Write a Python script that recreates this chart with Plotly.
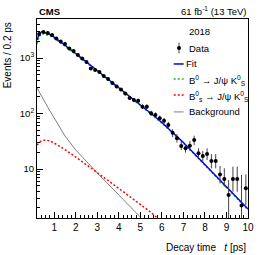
import plotly.graph_objects as go

# ---- data ----
t_data = [0.3, 0.5, 0.7, 0.9, 1.1, 1.3, 1.5, 1.7, 1.9, 2.1, 2.3, 2.5, 2.7, 2.9, 3.1, 3.3,
          3.5, 3.7, 3.9, 4.1, 4.3, 4.5, 4.7, 4.9, 5.1, 5.3, 5.5, 5.7, 5.9, 6.1, 6.3, 6.5,
          6.7, 6.9, 7.1, 7.3, 7.5, 7.7, 7.9, 8.1, 8.3, 8.5, 8.7, 8.9, 9.1, 9.3, 9.5, 9.7, 9.9]
n_data = [2704, 2939, 2818, 2597, 2244, 1982, 1786, 1483, 1336, 1133, 980, 847, 647, 608, 560, 474,
          419, 355, 306, 270, 229, 190, 175, 170, 133, 133, 101, 94, 82, 74, 62, 45,
          36, 25.9, 23.6, 26.3, 33.4, 19.2, 17.1, 18.6, 13.9, 13.9, 8.0, 6.6, 3.4, 6.6, 6.6, 2.2, 4.5]
err_up = [57, 60, 58, 56, 52, 49, 46, 42, 40, 37, 34, 32, 28, 27, 26, 24,
          22.5, 21, 19, 18, 16.6, 15, 14.5, 14.3, 12.7, 12.7, 11, 10.7, 10, 9.5, 8.7, 7.4,
          6.7, 5.1, 4.6, 5.6, 6.4, 4.4, 4.0, 5.0, 4.7, 4.7, 3.3, 3.7, 2.9, 4.4, 4.4, 5.6, 3.5]
err_dn = [57, 60, 58, 56, 52, 49, 46, 42, 40, 37, 34, 32, 28, 27, 26, 24,
          22.5, 21, 19, 18, 16.6, 15, 14.5, 14.3, 12.7, 12.7, 11, 10.7, 10, 9.5, 8.7, 7.4,
          6.1, 3.9, 3.9, 4.9, 6.4, 3.6, 3.5, 4.1, 3.6, 3.6, 2.5, 1.8, 3.0, 2.7, 2.7, 1.8, 2.3]

t_curve = [0.2, 0.3, 0.4, 0.5, 0.6, 0.8, 1.0, 1.5, 2.0, 2.5, 3.0, 3.5, 4.0, 4.5, 5.0,
           5.5, 6.0, 6.5, 7.0, 7.5, 8.0, 8.5, 9.0, 9.5, 10.0]
fit = [2109, 2704, 2939, 2939, 2818, 2649, 2388, 1714, 1205, 847, 596, 419, 294, 207, 145,
       100, 68.9, 46.4, 30.0, 19.0, 12.0, 7.64, 4.84, 3.06, 1.90]
b0 = [1794, 2429, 2699, 2731, 2635, 2506, 2276, 1653, 1167, 822, 579, 407, 286, 202, 141,
      97.5, 67.1, 45.2, 29.2, 18.6, 11.7, 7.44, 4.69, 2.96, 1.83]

t_bs = [0.2, 0.4, 0.6, 0.8, 1.0, 1.5, 2.0, 2.5, 3.0, 3.5, 4.0, 4.5, 5.0, 5.5, 6.0]
bs = [27.0, 32.0, 33.3, 32.0, 29.4, 22.4, 16.4, 12.0, 8.65, 6.21, 4.46, 3.20, 2.29, 1.65, 1.10]

t_bkg = [0.2, 0.5, 0.8, 1.0, 1.5, 2.0, 2.5, 3.0, 3.5, 4.0, 4.5, 5.0, 5.5]
bkg = [288, 175, 111, 83, 39.4, 22.0, 13.4, 8.47, 5.37, 3.41, 2.15, 1.36, 0.86]

x_ticks = [1, 2, 3, 4, 5, 6, 7, 8, 9, 10]
x_minor = [round(0.2 * i, 1) for i in range(1, 51)]
y_ticks = [10, 100, 1000]
y_ticktext = ["10", "10<sup>2</sup>", "10<sup>3</sup>"]
y_minor = [m * d for d in (1, 10, 100, 1000) for m in range(2, 10)]

FONT = "Liberation Sans, Arial, sans-serif"
BLUE, GREEN, RED, GRAY = "#0000ff", "#22bb22", "#ff0000", "#808080"
DOT = "2px,2px"

fig = go.Figure()
fig.add_trace(go.Scatter(x=t_bkg, y=bkg, mode="lines", line=dict(color=GRAY, width=1), showlegend=False))
fig.add_trace(go.Scatter(x=t_bs, y=bs, mode="lines", line=dict(color=RED, width=1.5, dash=DOT), showlegend=False))
fig.add_trace(go.Scatter(x=t_curve, y=b0, mode="lines", line=dict(color=GREEN, width=1.5, dash=DOT), showlegend=False))
fig.add_trace(go.Scatter(x=t_curve, y=fit, mode="lines", line=dict(color=BLUE, width=1.5), showlegend=False))
fig.add_trace(go.Scatter(x=t_data, y=n_data, mode="markers", showlegend=False,
                         marker=dict(color="black", size=4),
                         error_y=dict(type="data", array=err_up, arrayminus=err_dn,
                                      color="#444444", thickness=1, width=0)))

fig.update_xaxes(range=[0.2, 10], tickmode="array", tickvals=x_ticks, ticks="inside", ticklen=6,
                 tickcolor="black", tickwidth=1, showline=True, linecolor="black", linewidth=1,
                 mirror=True, showgrid=False, zeroline=False,
                 tickfont=dict(family=FONT, size=10, color="black"),
                 minor=dict(tickmode="array", tickvals=x_minor, ticks="inside", ticklen=3,
                            tickcolor="black", showgrid=False))
fig.update_yaxes(type="log", range=[0.117, 3.703], tickmode="array", tickvals=y_ticks,
                 ticktext=y_ticktext, ticks="inside", ticklen=6, tickcolor="black", tickwidth=1,
                 showline=True, linecolor="black", linewidth=1, mirror=True, showgrid=False,
                 zeroline=False, tickfont=dict(family=FONT, size=9.5, color="black"),
                 minor=dict(tickmode="array", tickvals=y_minor, ticks="inside", ticklen=3,
                            tickcolor="black", showgrid=False))

# legend (drawn manually to match the ROOT style)
sx0, sx1, tx = 0.648, 0.695, 0.711
rows = {"data": 0.854, "fit": 0.774, "b0": 0.698, "bs": 0.618, "bkg": 0.533}
shapes = [
    dict(type="line", xref="paper", yref="paper", x0=sx0, x1=sx1, y0=rows["fit"], y1=rows["fit"],
         line=dict(color=BLUE, width=1.5)),
    dict(type="line", xref="paper", yref="paper", x0=sx0, x1=sx1, y0=rows["b0"], y1=rows["b0"],
         line=dict(color=GREEN, width=1.5, dash=DOT)),
    dict(type="line", xref="paper", yref="paper", x0=sx0, x1=sx1, y0=rows["bs"], y1=rows["bs"],
         line=dict(color=RED, width=1.5, dash=DOT)),
    dict(type="line", xref="paper", yref="paper", x0=sx0, x1=sx1, y0=rows["bkg"], y1=rows["bkg"],
         line=dict(color=GRAY, width=1)),
    dict(type="line", xref="paper", yref="paper", x0=0.673, x1=0.673,
         y0=rows["data"] - 0.027, y1=rows["data"] + 0.027, line=dict(color="#444444", width=1)),
    dict(type="circle", xref="paper", yref="paper", x0=0.673 - 0.0095, x1=0.673 + 0.0095,
         y0=rows["data"] - 0.01, y1=rows["data"] + 0.01, fillcolor="black", line=dict(color="black", width=0)),
]

lf = dict(family=FONT, size=9.5, color="black")
ann = [
    dict(text="<b>CMS</b>", x=0, y=1.04, xanchor="left", yanchor="middle", font=dict(family=FONT, size=9.5, color="black")),
    dict(text="61 fb<sup>-1</sup> (13 TeV)", x=1, y=1.038, xanchor="right", yanchor="middle", font=lf),
    dict(text="2018", x=tx, y=0.935, xanchor="left", yanchor="middle", font=lf),
    dict(text="Data", x=tx, y=rows["data"], xanchor="left", yanchor="middle", font=lf),
    dict(text="Fit", x=tx - 0.012, y=rows["fit"], xanchor="left", yanchor="middle", font=lf),
    dict(text="B<sup>0</sup> → J/ψ K<sup>0</sup><sub>S</sub>", x=tx, y=rows["b0"] - 0.005, xanchor="left", yanchor="middle", font=lf),
    dict(text="B<sup>0</sup><sub>s</sub> → J/ψ K<sup>0</sup><sub>S</sub>", x=tx, y=rows["bs"] - 0.005, xanchor="left", yanchor="middle", font=lf),
    dict(text="Background", x=tx, y=rows["bkg"], xanchor="left", yanchor="middle", font=lf),
    dict(text="Decay time   <i>t</i> [ps]", x=1, y=-0.148, xanchor="right", yanchor="middle",
         font=dict(family=FONT, size=10, color="black")),
    dict(text="Events / 0.2 ps", x=-0.136, y=0.995, xanchor="center", yanchor="top", textangle=-90,
         font=dict(family=FONT, size=10, color="black")),
]
for a in ann:
    a.update(xref="paper", yref="paper", showarrow=False)

fig.update_layout(width=266, height=255, margin=dict(l=37, r=16, t=19, b=37),
                  paper_bgcolor="white", plot_bgcolor="white", showlegend=False,
                  hovermode=False, shapes=shapes, annotations=ann, font=dict(family=FONT))

fig.write_html("out.html", config={"displayModeBar": False, "staticPlot": True},
               post_script="document.body.style.margin='0';document.body.style.padding='0';")
